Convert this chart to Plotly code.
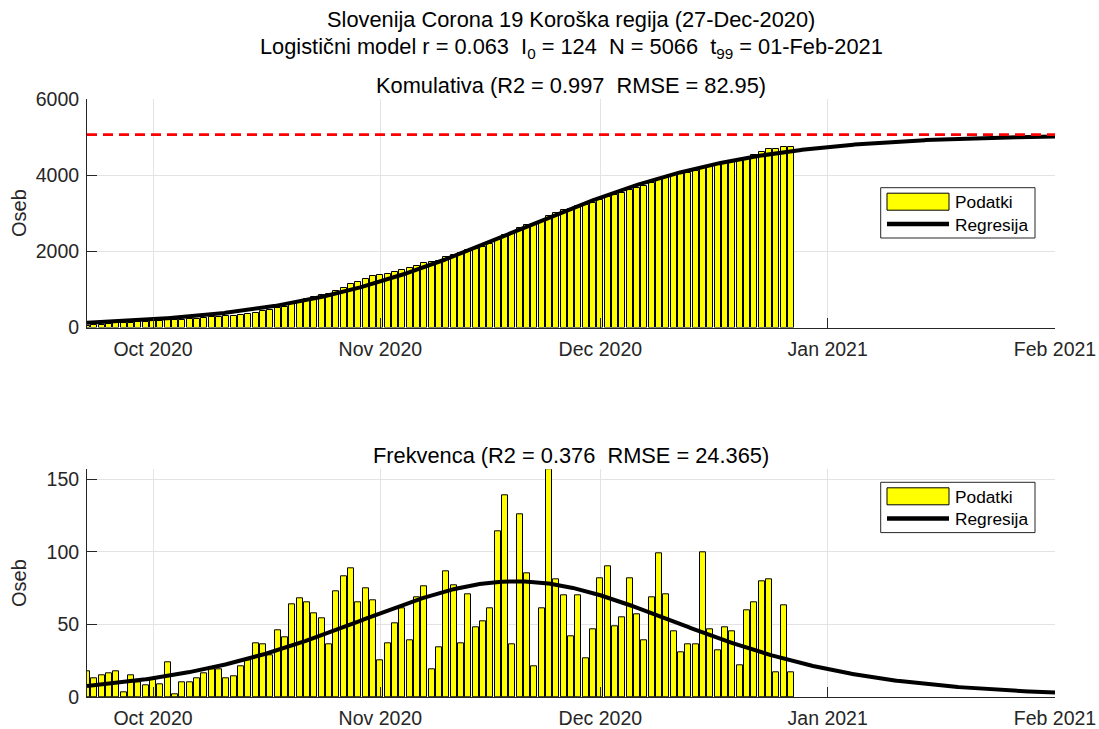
import numpy as np
import pandas as pd
import plotly.graph_objects as go

# ---------------- data ----------------
start_date = "2020-09-22"
n_days = 97
dates = pd.date_range(start_date, periods=n_days, freq="D")

daily_cases = [
    18, 13, 15, 16, 18, 3, 15, 10, 8, 12,
    9, 24, 2, 10, 10, 13, 16, 19, 19, 13,
    14, 21, 25, 37, 36, 29, 46, 41, 64, 68,
    65, 58, 54, 36, 73, 83, 89, 65, 75, 67,
    25, 37, 51, 61, 39, 69, 76, 19, 34,
    87, 77, 37, 71, 48, 52, 61, 114, 139, 36, 126,
    85, 21, 61, 157, 81, 70, 42, 70, 27, 47,
    82, 90, 49, 55, 82, 57, 39, 69, 99, 71,
    45, 31, 36, 36, 100, 47, 32, 48, 45, 22,
    60, 65, 80, 81, 17, 63, 17,
]

cumulative_cases = [
    50, 63, 78, 94, 112, 115, 130, 140, 148, 160,
    169, 193, 195, 205, 215, 228, 244, 263, 282, 295,
    309, 330, 355, 392, 428, 457, 503, 544, 608, 676,
    741, 799, 853, 889, 962, 1045, 1134, 1199, 1274, 1341,
    1366, 1403, 1454, 1515, 1554, 1623, 1699, 1718, 1752,
    1839, 1916, 1953, 2024, 2072, 2124, 2185, 2299, 2438, 2474, 2600,
    2685, 2706, 2767, 2924, 3005, 3075, 3117, 3187, 3214, 3261,
    3343, 3433, 3482, 3537, 3619, 3676, 3715, 3784, 3883, 3954,
    3999, 4030, 4066, 4102, 4202, 4249, 4281, 4329, 4374, 4396,
    4456, 4521, 4601, 4682, 4699, 4745, 4752,
]

# logistic model parameters (from the title)
r_rate = 0.063
I0 = 124
N_cap = 5066
model_days = 132  # 22-Sep-2020 .. 01-Feb-2021

tick_dates = ["2020-10-01", "2020-11-01", "2020-12-01", "2021-01-01", "2021-02-01"]
tick_text = ["Oct 2020", "Nov 2020", "Dec 2020", "Jan 2021", "Feb 2021"]

title_lines = [
    "Slovenija Corona 19 Koroška regija (27-Dec-2020)",
    "Logistični model r = 0.063 \u00a0I<sub>0</sub> = 124 \u00a0N = 5066 \u00a0t<sub>99</sub> = 01-Feb-2021",
    "Komulativa (R2 = 0.997 \u00a0RMSE = 82.95)",
]
bottom_title = "Frekvenca (R2 = 0.376 \u00a0RMSE = 24.365)"

# ---------------- model curves ----------------
t = np.linspace(0, model_days, 1057)
C = N_cap / (1 + (N_cap / I0 - 1) * np.exp(-r_rate * t))
dC = r_rate * C * (1 - C / N_cap)
t_dates = pd.Timestamp(start_date) + pd.to_timedelta(t, unit="D")
x_end = pd.Timestamp(start_date) + pd.Timedelta(days=model_days)

# ---------------- layout helpers ----------------
W, H = 1099, 729
L, R_px, T, B = 87, 1055, 99, 697
def px(x):
    return (x - L) / (R_px - L)
def py(y):
    return (B - y) / (B - T)

FONT = "Liberation Sans, Arial, Helvetica, sans-serif"
AX = "#262626"
GRID = "#e3e3e3"
bar_w = 0.8 * 86400000

fig = go.Figure()

# top: cumulative
fig.add_trace(go.Bar(x=dates, y=cumulative_cases, width=bar_w,
                     marker=dict(color="#ffff00", line=dict(color="#000000", width=1)),
                     xaxis="x", yaxis="y", showlegend=False))
fig.add_trace(go.Scatter(x=t_dates, y=C, mode="lines",
                         line=dict(color="black", width=4),
                         xaxis="x", yaxis="y", showlegend=False))
fig.add_trace(go.Scatter(x=[pd.Timestamp(start_date), x_end], y=[N_cap, N_cap], mode="lines",
                         line=dict(color="#ff0000", width=2.8, dash="10px,6px"),
                         xaxis="x", yaxis="y", showlegend=False))

# bottom: daily
fig.add_trace(go.Bar(x=dates, y=daily_cases, width=bar_w,
                     marker=dict(color="#ffff00", line=dict(color="#000000", width=1)),
                     xaxis="x2", yaxis="y2", showlegend=False))
fig.add_trace(go.Scatter(x=t_dates, y=dC, mode="lines",
                         line=dict(color="black", width=4),
                         xaxis="x2", yaxis="y2", showlegend=False))

xcommon = dict(type="date", range=[pd.Timestamp(start_date), x_end],
               tickmode="array", tickvals=tick_dates, ticktext=tick_text,
               ticks="inside", ticklen=10, tickcolor=AX, tickwidth=1,
               showline=True, linecolor=AX, linewidth=1, mirror=False,
               showgrid=True, gridcolor=GRID, gridwidth=1, zeroline=False,
               tickfont=dict(family=FONT, size=19.5, color=AX),
               ticklabelstandoff=4, fixedrange=True)
ycommon = dict(ticks="inside", ticklen=10, tickcolor=AX, tickwidth=1,
               showline=True, linecolor=AX, linewidth=1, mirror=False,
               showgrid=True, gridcolor=GRID, gridwidth=1, zeroline=False,
               tickfont=dict(family=FONT, size=19.5, color=AX),
               ticklabelstandoff=3, fixedrange=True)

fig.update_layout(
    width=W, height=H,
    margin=dict(l=L, r=W - R_px, t=T, b=H - B, autoexpand=False),
    paper_bgcolor="white", plot_bgcolor="white",
    bargap=0, showlegend=False,
    xaxis=dict(domain=[0, 1], anchor="y", **xcommon),
    yaxis=dict(domain=[py(327.5), 1], anchor="x", range=[0, 6000],
               tickvals=[0, 2000, 4000, 6000], **ycommon),
    xaxis2=dict(domain=[0, 1], anchor="y2", **xcommon),
    yaxis2=dict(domain=[0, py(469.3)], anchor="x2", range=[0, 157],
                tickvals=[0, 50, 100, 150], **ycommon),
)

annotations = []
title_y = [19, 48, 85]
for txt, yy in zip(title_lines, title_y):
    annotations.append(dict(text=txt, x=px(571), y=py(yy), xref="paper", yref="paper",
                            xanchor="center", yanchor="middle", showarrow=False,
                            font=dict(family=FONT, size=21.8, color="black")))
annotations.append(dict(text=bottom_title, x=px(571), y=py(455), xref="paper", yref="paper",
                        xanchor="center", yanchor="middle", showarrow=False,
                        font=dict(family=FONT, size=21.8, color="black")))
for yy in [213, 583]:
    annotations.append(dict(text="Oseb", x=px(19), y=py(yy), xref="paper", yref="paper",
                            xanchor="center", yanchor="middle", showarrow=False, textangle=-90,
                            font=dict(family=FONT, size=20, color=AX)))

shapes = []
for top in [187.7, 482.3]:
    # legend box
    shapes.append(dict(type="rect", xref="paper", yref="paper",
                       x0=px(880.7), x1=px(1035), y0=py(top), y1=py(top + 50.3),
                       line=dict(color="#262626", width=1), fillcolor="white"))
    shapes.append(dict(type="rect", xref="paper", yref="paper",
                       x0=px(887), x1=px(949), y0=py(top + 5.5), y1=py(top + 22.5),
                       line=dict(color="#000000", width=1), fillcolor="#ffff00"))
    shapes.append(dict(type="line", xref="paper", yref="paper",
                       x0=px(887), x1=px(949), y0=py(top + 36.3), y1=py(top + 36.3),
                       line=dict(color="#000000", width=4.5)))
    annotations.append(dict(text="Podatki", x=px(953), y=py(top + 14.5), xref="paper", yref="paper",
                            xanchor="left", yanchor="middle", showarrow=False,
                            font=dict(family=FONT, size=17.3, color="black")))
    annotations.append(dict(text="Regresija", x=px(953), y=py(top + 37), xref="paper", yref="paper",
                            xanchor="left", yanchor="middle", showarrow=False,
                            font=dict(family=FONT, size=17.3, color="black")))

fig.update_layout(annotations=annotations, shapes=shapes)

fig.write_html("out.html", config={"displayModeBar": False},
               post_script="document.body.style.margin='0';document.body.style.overflow='hidden';")
